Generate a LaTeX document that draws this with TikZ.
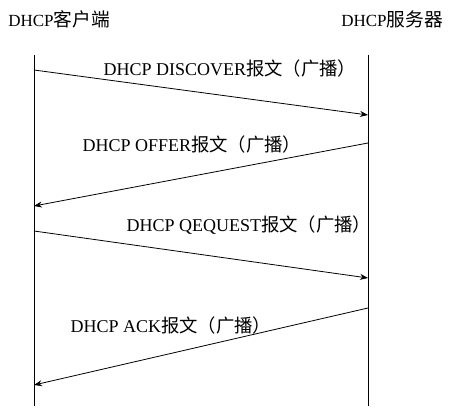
\documentclass[tikz,border=0pt]{standalone}
\usepackage{fontspec}
\setmainfont{Liberation Serif}
\newfontfamily\cjk{Noto Sans CJK SC}[Scale=1.02]
\newfontfamily\cjkh{Noto Sans CJK SC}[Scale=1.1]
\usetikzlibrary{arrows.meta}
\begin{document}
\begin{tikzpicture}[x=1pt,y=-1pt,
  lifeline/.style={line width=0.8pt},
  msg/.style={line width=0.8pt,-{Stealth[length=8pt,width=6pt]}},
  lbl/.style={inner sep=0pt,font=\fontsize{18}{20}\selectfont},
  head/.style={inner sep=0pt,font=\fontsize{17}{20}\selectfont}]
\useasboundingbox (0,0) rectangle (450,414);
\node[head] (client) at (59,19) {DHCP{\cjkh 客户端}};
\node[head] (server) at (392,19) {DHCP{\cjkh 服务器}};
\coordinate (ct) at (34,55); \coordinate (cb) at (34,406);
\coordinate (st) at (368,55); \coordinate (sb) at (368,406);
\draw[lifeline] (ct) -- (cb);
\draw[lifeline] (st) -- (sb);
\coordinate (a1s) at (34,70); \coordinate (a1e) at (368,115);
\coordinate (a2s) at (368,143); \coordinate (a2e) at (34,206);
\coordinate (a3s) at (34,231); \coordinate (a3e) at (368,278);
\coordinate (a4s) at (368,308); \coordinate (a4e) at (34,385);
\draw[msg] (a1s) -- (a1e);
\draw[msg] (a2s) -- (a2e);
\draw[msg] (a3s) -- (a3e);
\draw[msg] (a4s) -- (a4e);
\node[lbl] (l1) at (230,69) {DHCP DISCOVER{\cjk 报文（广播）}};
\node[lbl] (l2) at (192,145) {DHCP OFFER{\cjk 报文（广播）}};
\node[lbl] (l3) at (249,225) {DHCP QEQUEST{\cjk 报文（广播）}};
\node[lbl] (l4) at (171,326) {DHCP ACK{\cjk 报文（广播）}};
\end{tikzpicture}
\end{document}
